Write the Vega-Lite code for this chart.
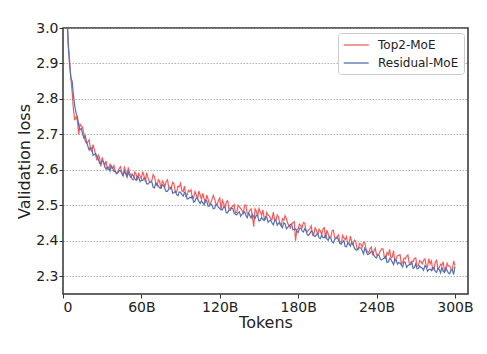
{
  "$schema": "https://vega.github.io/schema/vega-lite/v6.json",
  "width": 405,
  "height": 266,
  "autosize": {"type": "none"},
  "padding": {"left": 63, "top": 28, "right": 19, "bottom": 60},
  "background": "white",
  "config": {"font": "DejaVu Sans", "view": {"stroke": "#333333", "strokeWidth": 1.5}},
  "data": {"values": [
    {"t":2,"Top2-MoE":3.16,"Residual-MoE":3.15},
    {"t":3,"Top2-MoE":3.05,"Residual-MoE":3.04},
    {"t":4,"Top2-MoE":2.96,"Residual-MoE":2.95},
    {"t":5,"Top2-MoE":2.91,"Residual-MoE":2.90},
    {"t":6,"Top2-MoE":2.86,"Residual-MoE":2.86},
    {"t":7,"Top2-MoE":2.82,"Residual-MoE":2.85},
    {"t":8,"Top2-MoE":2.77,"Residual-MoE":2.81},
    {"t":9,"Top2-MoE":2.74,"Residual-MoE":2.78},
    {"t":10,"Top2-MoE":2.75,"Residual-MoE":2.76},
    {"t":11,"Top2-MoE":2.740,"Residual-MoE":2.750},
    {"t":12,"Top2-MoE":2.700,"Residual-MoE":2.727},
    {"t":13,"Top2-MoE":2.729,"Residual-MoE":2.713},
    {"t":14,"Top2-MoE":2.724,"Residual-MoE":2.717},
    {"t":15,"Top2-MoE":2.720,"Residual-MoE":2.701},
    {"t":16,"Top2-MoE":2.701,"Residual-MoE":2.690},
    {"t":17,"Top2-MoE":2.680,"Residual-MoE":2.696},
    {"t":18,"Top2-MoE":2.675,"Residual-MoE":2.680},
    {"t":19,"Top2-MoE":2.679,"Residual-MoE":2.667},
    {"t":20,"Top2-MoE":2.685,"Residual-MoE":2.656},
    {"t":21,"Top2-MoE":2.658,"Residual-MoE":2.663},
    {"t":22,"Top2-MoE":2.653,"Residual-MoE":2.661},
    {"t":23,"Top2-MoE":2.671,"Residual-MoE":2.641},
    {"t":24,"Top2-MoE":2.657,"Residual-MoE":2.643},
    {"t":25,"Top2-MoE":2.641,"Residual-MoE":2.646},
    {"t":26,"Top2-MoE":2.627,"Residual-MoE":2.638},
    {"t":27,"Top2-MoE":2.642,"Residual-MoE":2.631},
    {"t":28,"Top2-MoE":2.634,"Residual-MoE":2.618},
    {"t":29,"Top2-MoE":2.610,"Residual-MoE":2.617},
    {"t":30,"Top2-MoE":2.635,"Residual-MoE":2.625},
    {"t":31,"Top2-MoE":2.623,"Residual-MoE":2.622},
    {"t":32,"Top2-MoE":2.613,"Residual-MoE":2.608},
    {"t":33,"Top2-MoE":2.625,"Residual-MoE":2.602},
    {"t":34,"Top2-MoE":2.601,"Residual-MoE":2.608},
    {"t":35,"Top2-MoE":2.602,"Residual-MoE":2.607},
    {"t":36,"Top2-MoE":2.616,"Residual-MoE":2.597},
    {"t":37,"Top2-MoE":2.606,"Residual-MoE":2.611},
    {"t":38,"Top2-MoE":2.605,"Residual-MoE":2.605},
    {"t":39,"Top2-MoE":2.612,"Residual-MoE":2.596},
    {"t":40,"Top2-MoE":2.594,"Residual-MoE":2.596},
    {"t":41,"Top2-MoE":2.589,"Residual-MoE":2.590},
    {"t":42,"Top2-MoE":2.595,"Residual-MoE":2.592},
    {"t":43,"Top2-MoE":2.604,"Residual-MoE":2.598},
    {"t":44,"Top2-MoE":2.609,"Residual-MoE":2.598},
    {"t":45,"Top2-MoE":2.593,"Residual-MoE":2.590},
    {"t":46,"Top2-MoE":2.583,"Residual-MoE":2.583},
    {"t":47,"Top2-MoE":2.607,"Residual-MoE":2.597},
    {"t":48,"Top2-MoE":2.598,"Residual-MoE":2.589},
    {"t":49,"Top2-MoE":2.582,"Residual-MoE":2.579},
    {"t":50,"Top2-MoE":2.607,"Residual-MoE":2.594},
    {"t":51,"Top2-MoE":2.591,"Residual-MoE":2.584},
    {"t":52,"Top2-MoE":2.585,"Residual-MoE":2.578},
    {"t":53,"Top2-MoE":2.573,"Residual-MoE":2.588},
    {"t":54,"Top2-MoE":2.572,"Residual-MoE":2.582},
    {"t":55,"Top2-MoE":2.594,"Residual-MoE":2.575},
    {"t":56,"Top2-MoE":2.588,"Residual-MoE":2.570},
    {"t":57,"Top2-MoE":2.572,"Residual-MoE":2.582},
    {"t":58,"Top2-MoE":2.590,"Residual-MoE":2.579},
    {"t":59,"Top2-MoE":2.583,"Residual-MoE":2.567},
    {"t":60,"Top2-MoE":2.575,"Residual-MoE":2.571},
    {"t":61,"Top2-MoE":2.595,"Residual-MoE":2.570},
    {"t":62,"Top2-MoE":2.583,"Residual-MoE":2.577},
    {"t":63,"Top2-MoE":2.567,"Residual-MoE":2.577},
    {"t":64,"Top2-MoE":2.592,"Residual-MoE":2.561},
    {"t":65,"Top2-MoE":2.578,"Residual-MoE":2.560},
    {"t":66,"Top2-MoE":2.568,"Residual-MoE":2.564},
    {"t":67,"Top2-MoE":2.567,"Residual-MoE":2.566},
    {"t":68,"Top2-MoE":2.570,"Residual-MoE":2.566},
    {"t":69,"Top2-MoE":2.587,"Residual-MoE":2.551},
    {"t":70,"Top2-MoE":2.580,"Residual-MoE":2.549},
    {"t":71,"Top2-MoE":2.564,"Residual-MoE":2.563},
    {"t":72,"Top2-MoE":2.555,"Residual-MoE":2.558},
    {"t":73,"Top2-MoE":2.572,"Residual-MoE":2.555},
    {"t":74,"Top2-MoE":2.567,"Residual-MoE":2.549},
    {"t":75,"Top2-MoE":2.547,"Residual-MoE":2.548},
    {"t":76,"Top2-MoE":2.569,"Residual-MoE":2.558},
    {"t":77,"Top2-MoE":2.563,"Residual-MoE":2.556},
    {"t":78,"Top2-MoE":2.553,"Residual-MoE":2.547},
    {"t":79,"Top2-MoE":2.568,"Residual-MoE":2.539},
    {"t":80,"Top2-MoE":2.572,"Residual-MoE":2.540},
    {"t":81,"Top2-MoE":2.549,"Residual-MoE":2.546},
    {"t":82,"Top2-MoE":2.550,"Residual-MoE":2.546},
    {"t":83,"Top2-MoE":2.553,"Residual-MoE":2.550},
    {"t":84,"Top2-MoE":2.565,"Residual-MoE":2.534},
    {"t":85,"Top2-MoE":2.560,"Residual-MoE":2.536},
    {"t":86,"Top2-MoE":2.538,"Residual-MoE":2.539},
    {"t":87,"Top2-MoE":2.537,"Residual-MoE":2.530},
    {"t":88,"Top2-MoE":2.554,"Residual-MoE":2.527},
    {"t":89,"Top2-MoE":2.552,"Residual-MoE":2.538},
    {"t":90,"Top2-MoE":2.562,"Residual-MoE":2.537},
    {"t":91,"Top2-MoE":2.541,"Residual-MoE":2.530},
    {"t":92,"Top2-MoE":2.539,"Residual-MoE":2.526},
    {"t":93,"Top2-MoE":2.554,"Residual-MoE":2.536},
    {"t":94,"Top2-MoE":2.525,"Residual-MoE":2.533},
    {"t":95,"Top2-MoE":2.529,"Residual-MoE":2.518},
    {"t":96,"Top2-MoE":2.542,"Residual-MoE":2.519},
    {"t":97,"Top2-MoE":2.538,"Residual-MoE":2.523},
    {"t":98,"Top2-MoE":2.544,"Residual-MoE":2.521},
    {"t":99,"Top2-MoE":2.519,"Residual-MoE":2.526},
    {"t":100,"Top2-MoE":2.522,"Residual-MoE":2.509},
    {"t":101,"Top2-MoE":2.539,"Residual-MoE":2.512},
    {"t":102,"Top2-MoE":2.530,"Residual-MoE":2.521},
    {"t":103,"Top2-MoE":2.517,"Residual-MoE":2.519},
    {"t":104,"Top2-MoE":2.540,"Residual-MoE":2.511},
    {"t":105,"Top2-MoE":2.529,"Residual-MoE":2.505},
    {"t":106,"Top2-MoE":2.516,"Residual-MoE":2.513},
    {"t":107,"Top2-MoE":2.534,"Residual-MoE":2.507},
    {"t":108,"Top2-MoE":2.519,"Residual-MoE":2.501},
    {"t":109,"Top2-MoE":2.507,"Residual-MoE":2.515},
    {"t":110,"Top2-MoE":2.529,"Residual-MoE":2.513},
    {"t":111,"Top2-MoE":2.518,"Residual-MoE":2.498},
    {"t":112,"Top2-MoE":2.504,"Residual-MoE":2.498},
    {"t":113,"Top2-MoE":2.507,"Residual-MoE":2.504},
    {"t":114,"Top2-MoE":2.516,"Residual-MoE":2.501},
    {"t":115,"Top2-MoE":2.528,"Residual-MoE":2.490},
    {"t":116,"Top2-MoE":2.518,"Residual-MoE":2.491},
    {"t":117,"Top2-MoE":2.505,"Residual-MoE":2.502},
    {"t":118,"Top2-MoE":2.502,"Residual-MoE":2.500},
    {"t":119,"Top2-MoE":2.514,"Residual-MoE":2.495},
    {"t":120,"Top2-MoE":2.521,"Residual-MoE":2.491},
    {"t":121,"Top2-MoE":2.488,"Residual-MoE":2.487},
    {"t":122,"Top2-MoE":2.514,"Residual-MoE":2.487},
    {"t":123,"Top2-MoE":2.505,"Residual-MoE":2.496},
    {"t":124,"Top2-MoE":2.492,"Residual-MoE":2.494},
    {"t":125,"Top2-MoE":2.510,"Residual-MoE":2.479},
    {"t":126,"Top2-MoE":2.513,"Residual-MoE":2.479},
    {"t":127,"Top2-MoE":2.490,"Residual-MoE":2.487},
    {"t":128,"Top2-MoE":2.491,"Residual-MoE":2.486},
    {"t":129,"Top2-MoE":2.495,"Residual-MoE":2.492},
    {"t":130,"Top2-MoE":2.497,"Residual-MoE":2.491},
    {"t":131,"Top2-MoE":2.502,"Residual-MoE":2.478},
    {"t":132,"Top2-MoE":2.478,"Residual-MoE":2.475},
    {"t":133,"Top2-MoE":2.480,"Residual-MoE":2.473},
    {"t":134,"Top2-MoE":2.500,"Residual-MoE":2.479},
    {"t":135,"Top2-MoE":2.496,"Residual-MoE":2.482},
    {"t":136,"Top2-MoE":2.491,"Residual-MoE":2.469},
    {"t":137,"Top2-MoE":2.486,"Residual-MoE":2.475},
    {"t":138,"Top2-MoE":2.478,"Residual-MoE":2.479},
    {"t":139,"Top2-MoE":2.500,"Residual-MoE":2.482},
    {"t":140,"Top2-MoE":2.501,"Residual-MoE":2.471},
    {"t":141,"Top2-MoE":2.476,"Residual-MoE":2.465},
    {"t":142,"Top2-MoE":2.477,"Residual-MoE":2.478},
    {"t":143,"Top2-MoE":2.486,"Residual-MoE":2.471},
    {"t":144,"Top2-MoE":2.490,"Residual-MoE":2.464},
    {"t":145,"Top2-MoE":2.468,"Residual-MoE":2.475},
    {"t":146,"Top2-MoE":2.440,"Residual-MoE":2.468},
    {"t":147,"Top2-MoE":2.490,"Residual-MoE":2.463},
    {"t":148,"Top2-MoE":2.484,"Residual-MoE":2.472},
    {"t":149,"Top2-MoE":2.469,"Residual-MoE":2.471},
    {"t":150,"Top2-MoE":2.491,"Residual-MoE":2.456},
    {"t":151,"Top2-MoE":2.481,"Residual-MoE":2.457},
    {"t":152,"Top2-MoE":2.472,"Residual-MoE":2.466},
    {"t":153,"Top2-MoE":2.487,"Residual-MoE":2.460},
    {"t":154,"Top2-MoE":2.463,"Residual-MoE":2.457},
    {"t":155,"Top2-MoE":2.460,"Residual-MoE":2.468},
    {"t":156,"Top2-MoE":2.480,"Residual-MoE":2.467},
    {"t":157,"Top2-MoE":2.472,"Residual-MoE":2.452},
    {"t":158,"Top2-MoE":2.470,"Residual-MoE":2.456},
    {"t":159,"Top2-MoE":2.462,"Residual-MoE":2.459},
    {"t":160,"Top2-MoE":2.460,"Residual-MoE":2.450},
    {"t":161,"Top2-MoE":2.481,"Residual-MoE":2.445},
    {"t":162,"Top2-MoE":2.459,"Residual-MoE":2.457},
    {"t":163,"Top2-MoE":2.459,"Residual-MoE":2.458},
    {"t":164,"Top2-MoE":2.473,"Residual-MoE":2.444},
    {"t":165,"Top2-MoE":2.467,"Residual-MoE":2.450},
    {"t":166,"Top2-MoE":2.447,"Residual-MoE":2.450},
    {"t":167,"Top2-MoE":2.442,"Residual-MoE":2.443},
    {"t":168,"Top2-MoE":2.462,"Residual-MoE":2.437},
    {"t":169,"Top2-MoE":2.458,"Residual-MoE":2.451},
    {"t":170,"Top2-MoE":2.471,"Residual-MoE":2.448},
    {"t":171,"Top2-MoE":2.463,"Residual-MoE":2.434},
    {"t":172,"Top2-MoE":2.449,"Residual-MoE":2.438},
    {"t":173,"Top2-MoE":2.443,"Residual-MoE":2.442},
    {"t":174,"Top2-MoE":2.436,"Residual-MoE":2.446},
    {"t":175,"Top2-MoE":2.448,"Residual-MoE":2.447},
    {"t":176,"Top2-MoE":2.452,"Residual-MoE":2.431},
    {"t":177,"Top2-MoE":2.454,"Residual-MoE":2.432},
    {"t":178,"Top2-MoE":2.400,"Residual-MoE":2.434},
    {"t":179,"Top2-MoE":2.432,"Residual-MoE":2.427},
    {"t":180,"Top2-MoE":2.434,"Residual-MoE":2.423},
    {"t":181,"Top2-MoE":2.447,"Residual-MoE":2.435},
    {"t":182,"Top2-MoE":2.443,"Residual-MoE":2.436},
    {"t":183,"Top2-MoE":2.437,"Residual-MoE":2.428},
    {"t":184,"Top2-MoE":2.452,"Residual-MoE":2.425},
    {"t":185,"Top2-MoE":2.450,"Residual-MoE":2.434},
    {"t":186,"Top2-MoE":2.429,"Residual-MoE":2.428},
    {"t":187,"Top2-MoE":2.426,"Residual-MoE":2.417},
    {"t":188,"Top2-MoE":2.431,"Residual-MoE":2.415},
    {"t":189,"Top2-MoE":2.434,"Residual-MoE":2.421},
    {"t":190,"Top2-MoE":2.442,"Residual-MoE":2.428},
    {"t":191,"Top2-MoE":2.416,"Residual-MoE":2.425},
    {"t":192,"Top2-MoE":2.418,"Residual-MoE":2.414},
    {"t":193,"Top2-MoE":2.437,"Residual-MoE":2.412},
    {"t":194,"Top2-MoE":2.430,"Residual-MoE":2.417},
    {"t":195,"Top2-MoE":2.416,"Residual-MoE":2.420},
    {"t":196,"Top2-MoE":2.433,"Residual-MoE":2.408},
    {"t":197,"Top2-MoE":2.428,"Residual-MoE":2.406},
    {"t":198,"Top2-MoE":2.417,"Residual-MoE":2.417},
    {"t":199,"Top2-MoE":2.434,"Residual-MoE":2.409},
    {"t":200,"Top2-MoE":2.437,"Residual-MoE":2.409},
    {"t":201,"Top2-MoE":2.407,"Residual-MoE":2.417},
    {"t":202,"Top2-MoE":2.430,"Residual-MoE":2.405},
    {"t":203,"Top2-MoE":2.419,"Residual-MoE":2.401},
    {"t":204,"Top2-MoE":2.408,"Residual-MoE":2.412},
    {"t":205,"Top2-MoE":2.409,"Residual-MoE":2.408},
    {"t":206,"Top2-MoE":2.429,"Residual-MoE":2.397},
    {"t":207,"Top2-MoE":2.430,"Residual-MoE":2.394},
    {"t":208,"Top2-MoE":2.407,"Residual-MoE":2.404},
    {"t":209,"Top2-MoE":2.408,"Residual-MoE":2.407},
    {"t":210,"Top2-MoE":2.413,"Residual-MoE":2.409},
    {"t":211,"Top2-MoE":2.417,"Residual-MoE":2.400},
    {"t":212,"Top2-MoE":2.393,"Residual-MoE":2.392},
    {"t":213,"Top2-MoE":2.391,"Residual-MoE":2.392},
    {"t":214,"Top2-MoE":2.415,"Residual-MoE":2.396},
    {"t":215,"Top2-MoE":2.408,"Residual-MoE":2.401},
    {"t":216,"Top2-MoE":2.404,"Residual-MoE":2.384},
    {"t":217,"Top2-MoE":2.412,"Residual-MoE":2.383},
    {"t":218,"Top2-MoE":2.391,"Residual-MoE":2.394},
    {"t":219,"Top2-MoE":2.392,"Residual-MoE":2.391},
    {"t":220,"Top2-MoE":2.413,"Residual-MoE":2.385},
    {"t":221,"Top2-MoE":2.396,"Residual-MoE":2.395},
    {"t":222,"Top2-MoE":2.388,"Residual-MoE":2.391},
    {"t":223,"Top2-MoE":2.402,"Residual-MoE":2.380},
    {"t":224,"Top2-MoE":2.399,"Residual-MoE":2.375},
    {"t":225,"Top2-MoE":2.379,"Residual-MoE":2.374},
    {"t":226,"Top2-MoE":2.376,"Residual-MoE":2.378},
    {"t":227,"Top2-MoE":2.393,"Residual-MoE":2.381},
    {"t":228,"Top2-MoE":2.390,"Residual-MoE":2.380},
    {"t":229,"Top2-MoE":2.382,"Residual-MoE":2.373},
    {"t":230,"Top2-MoE":2.396,"Residual-MoE":2.363},
    {"t":231,"Top2-MoE":2.395,"Residual-MoE":2.379},
    {"t":232,"Top2-MoE":2.376,"Residual-MoE":2.372},
    {"t":233,"Top2-MoE":2.370,"Residual-MoE":2.361},
    {"t":234,"Top2-MoE":2.366,"Residual-MoE":2.362},
    {"t":235,"Top2-MoE":2.378,"Residual-MoE":2.365},
    {"t":236,"Top2-MoE":2.382,"Residual-MoE":2.371},
    {"t":237,"Top2-MoE":2.359,"Residual-MoE":2.368},
    {"t":238,"Top2-MoE":2.371,"Residual-MoE":2.359},
    {"t":239,"Top2-MoE":2.379,"Residual-MoE":2.354},
    {"t":240,"Top2-MoE":2.360,"Residual-MoE":2.352},
    {"t":241,"Top2-MoE":2.360,"Residual-MoE":2.361},
    {"t":242,"Top2-MoE":2.364,"Residual-MoE":2.359},
    {"t":243,"Top2-MoE":2.372,"Residual-MoE":2.347},
    {"t":244,"Top2-MoE":2.378,"Residual-MoE":2.346},
    {"t":245,"Top2-MoE":2.377,"Residual-MoE":2.349},
    {"t":246,"Top2-MoE":2.352,"Residual-MoE":2.352},
    {"t":247,"Top2-MoE":2.350,"Residual-MoE":2.357},
    {"t":248,"Top2-MoE":2.367,"Residual-MoE":2.339},
    {"t":249,"Top2-MoE":2.361,"Residual-MoE":2.340},
    {"t":250,"Top2-MoE":2.376,"Residual-MoE":2.350},
    {"t":251,"Top2-MoE":2.351,"Residual-MoE":2.347},
    {"t":252,"Top2-MoE":2.354,"Residual-MoE":2.340},
    {"t":253,"Top2-MoE":2.372,"Residual-MoE":2.333},
    {"t":254,"Top2-MoE":2.341,"Residual-MoE":2.348},
    {"t":255,"Top2-MoE":2.350,"Residual-MoE":2.346},
    {"t":256,"Top2-MoE":2.358,"Residual-MoE":2.334},
    {"t":257,"Top2-MoE":2.359,"Residual-MoE":2.339},
    {"t":258,"Top2-MoE":2.361,"Residual-MoE":2.337},
    {"t":259,"Top2-MoE":2.334,"Residual-MoE":2.332},
    {"t":260,"Top2-MoE":2.340,"Residual-MoE":2.326},
    {"t":261,"Top2-MoE":2.351,"Residual-MoE":2.341},
    {"t":262,"Top2-MoE":2.349,"Residual-MoE":2.339},
    {"t":263,"Top2-MoE":2.357,"Residual-MoE":2.325},
    {"t":264,"Top2-MoE":2.360,"Residual-MoE":2.330},
    {"t":265,"Top2-MoE":2.337,"Residual-MoE":2.333},
    {"t":266,"Top2-MoE":2.337,"Residual-MoE":2.333},
    {"t":267,"Top2-MoE":2.343,"Residual-MoE":2.339},
    {"t":268,"Top2-MoE":2.341,"Residual-MoE":2.322},
    {"t":269,"Top2-MoE":2.350,"Residual-MoE":2.325},
    {"t":270,"Top2-MoE":2.352,"Residual-MoE":2.335},
    {"t":271,"Top2-MoE":2.329,"Residual-MoE":2.321},
    {"t":272,"Top2-MoE":2.329,"Residual-MoE":2.322},
    {"t":273,"Top2-MoE":2.344,"Residual-MoE":2.329},
    {"t":274,"Top2-MoE":2.341,"Residual-MoE":2.325},
    {"t":275,"Top2-MoE":2.335,"Residual-MoE":2.323},
    {"t":276,"Top2-MoE":2.345,"Residual-MoE":2.317},
    {"t":277,"Top2-MoE":2.349,"Residual-MoE":2.330},
    {"t":278,"Top2-MoE":2.329,"Residual-MoE":2.326},
    {"t":279,"Top2-MoE":2.326,"Residual-MoE":2.314},
    {"t":280,"Top2-MoE":2.350,"Residual-MoE":2.319},
    {"t":281,"Top2-MoE":2.335,"Residual-MoE":2.320},
    {"t":282,"Top2-MoE":2.343,"Residual-MoE":2.316},
    {"t":283,"Top2-MoE":2.318,"Residual-MoE":2.325},
    {"t":284,"Top2-MoE":2.322,"Residual-MoE":2.324},
    {"t":285,"Top2-MoE":2.340,"Residual-MoE":2.313},
    {"t":286,"Top2-MoE":2.345,"Residual-MoE":2.311},
    {"t":287,"Top2-MoE":2.321,"Residual-MoE":2.323},
    {"t":288,"Top2-MoE":2.324,"Residual-MoE":2.319},
    {"t":289,"Top2-MoE":2.334,"Residual-MoE":2.310},
    {"t":290,"Top2-MoE":2.331,"Residual-MoE":2.325},
    {"t":291,"Top2-MoE":2.341,"Residual-MoE":2.314},
    {"t":292,"Top2-MoE":2.314,"Residual-MoE":2.311},
    {"t":293,"Top2-MoE":2.316,"Residual-MoE":2.324},
    {"t":294,"Top2-MoE":2.337,"Residual-MoE":2.316},
    {"t":295,"Top2-MoE":2.329,"Residual-MoE":2.309},
    {"t":296,"Top2-MoE":2.329,"Residual-MoE":2.307},
    {"t":297,"Top2-MoE":2.321,"Residual-MoE":2.318},
    {"t":298,"Top2-MoE":2.317,"Residual-MoE":2.318},
    {"t":299,"Top2-MoE":2.343,"Residual-MoE":2.305},
    {"t":300,"Top2-MoE":2.330,"Residual-MoE":2.328}
  ]},
  "transform": [{"fold": ["Top2-MoE", "Residual-MoE"], "as": ["s", "v"]}],
  "encoding": {
    "x": {"field": "t", "type": "quantitative",
      "scale": {"domain": [0, 310], "nice": false},
      "axis": {"title": "Tokens", "values": [0, 60, 120, 180, 240, 300],
        "labelExpr": "datum.value == 0 ? '0' : datum.value + 'B'",
        "grid": false, "domain": false, "tickSize": 4, "tickColor": "#333333",
        "labelFontSize": 14, "labelColor": "#222222", "labelPadding": 2,
        "titleFontSize": 16, "titleFontWeight": "normal", "titleColor": "#222222", "titlePadding": 0}},
    "y": {"field": "v", "type": "quantitative",
      "scale": {"domain": [2.25, 3.0], "nice": false, "zero": false},
      "axis": {"title": "Validation loss", "values": [2.3, 2.4, 2.5, 2.6, 2.7, 2.8, 2.9, 3.0], "format": ".1f",
        "grid": true, "gridDash": [1.5, 1.5], "gridColor": "#999999", "gridWidth": 0.8,
        "domain": false, "tickSize": 4, "tickColor": "#333333",
        "labelFontSize": 14, "labelColor": "#222222", "labelPadding": 1,
        "titleFontSize": 16, "titleFontWeight": "normal", "titleColor": "#222222", "titlePadding": 3}},
    "color": {"field": "s", "type": "nominal",
      "scale": {"domain": ["Top2-MoE", "Residual-MoE"], "range": ["#f55b5b", "#5470b0"]},
      "legend": {"title": null, "orient": "none", "legendX": 275, "legendY": 5,
        "symbolType": "M-1,0H3", "symbolSize": 156, "symbolStrokeWidth": 1.3,
        "labelFontSize": 12, "labelColor": "#222222", "labelOffset": 21,
        "fillColor": "white", "strokeColor": "#cccccc", "cornerRadius": 3, "padding": 5, "rowPadding": 5}}
  },
  "layer": [
    {"transform": [{"filter": "datum.s == 'Top2-MoE'"}], "mark": {"type": "line", "strokeWidth": 1.2, "clip": true}},
    {"transform": [{"filter": "datum.s == 'Residual-MoE'"}], "mark": {"type": "line", "strokeWidth": 1.2, "clip": true}}
  ]
}
